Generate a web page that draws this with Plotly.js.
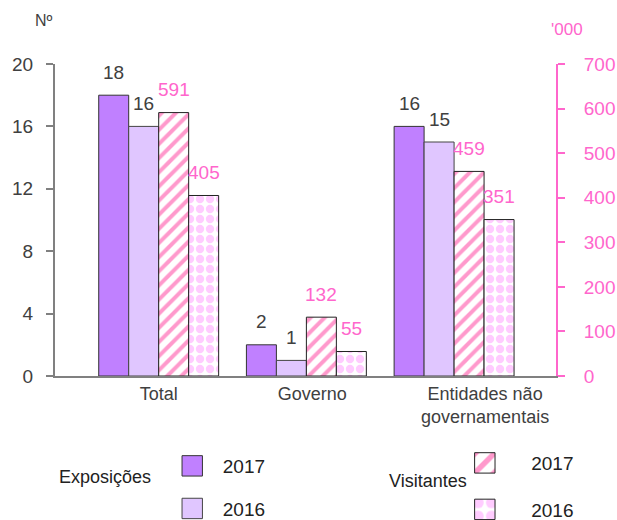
<!DOCTYPE html>
<html>
<head>
<meta charset="utf-8">
<script src="https://cdn.plot.ly/plotly-3.0.1.min.js"></script>
<style>
  html, body { margin: 0; padding: 0; background: #fff; }
  #chart { width: 617px; height: 520px; }
</style>
</head>
<body>
<div id="chart"></div>
<script>
// ---- data ----
const categories = ['Total', 'Governo', 'Entidades não governamentais'];
const tickLabels = ['Total', 'Governo', 'Entidades não<br>governamentais'];
const exposicoes2017 = [18, 2, 16];
const exposicoes2016 = [16, 1, 15];
const visitantes2017 = [591, 132, 459];   // '000
const visitantes2016 = [405, 55, 351];    // '000
const leftTicks = [0, 4, 8, 12, 16, 20];
const rightTicks = [0, 100, 200, 300, 400, 500, 600, 700];

// ---- styles ----
const FONT = '"Liberation Sans", Arial, sans-serif';
const FS = 18;     // words
const FN = 19;     // numbers
const GREY = '#808080';
const DARK = '#404040';
const PINK = '#FF66CC';
const W = 0.203;
const offsets = [-2 * W, -W, 0, W];
const labelPos = [0, 1.04, 2.21];
const NB = '\u00A0';

const xIdx = categories.map((_, i) => i);

function barTrace(name, values, k, yaxis, marker, legend) {
  return {
    type: 'bar', name: name, x: xIdx, y: values, yaxis: yaxis,
    width: W, offset: offsets[k], marker: marker, legend: legend,
    hoverinfo: 'skip'
  };
}

const traces = [
  barTrace(NB + NB + '2017', exposicoes2017, 0, 'y',
    { color: '#C080FF', line: { color: '#333333', width: 1 } }, 'legend'),
  barTrace(NB + NB + '2016', exposicoes2016, 1, 'y',
    { color: '#E0C6FF', line: { color: '#444444', width: 1 } }, 'legend2'),
  barTrace(NB.repeat(5) + '2017', visitantes2017, 2, 'y2',
    { color: '#FFFFFF', line: { color: '#222222', width: 1 },
      pattern: { shape: '/', fgcolor: '#FF99CC', bgcolor: '#FFFFFF', size: 10, solidity: 0.4 } }, 'legend3'),
  barTrace(NB.repeat(5) + '2016', visitantes2016, 3, 'y2',
    { color: '#FFFFFF', line: { color: '#222222', width: 1 },
      pattern: { shape: '.', fgcolor: '#FFCCFF', bgcolor: '#FFFFFF', size: 10, solidity: 0.55 } }, 'legend4')
];

// value labels
const annotations = [];
function addLabels(values, k, yref, color) {
  values.forEach((v, i) => {
    annotations.push({
      x: i + offsets[k] + W / 2, y: v, xref: 'x', yref: yref,
      text: String(v), showarrow: false, xanchor: 'center', yanchor: 'middle', yshift: 23,
      font: { family: FONT, size: FN, color: color }
    });
  });
}
addLabels(exposicoes2017, 0, 'y', DARK);
addLabels(exposicoes2016, 1, 'y', DARK);
addLabels(visitantes2017, 2, 'y2', PINK);
addLabels(visitantes2016, 3, 'y2', PINK);

annotations.push(
  { xref: 'paper', yref: 'paper', x: -0.022, y: 1.138, text: 'Nº', showarrow: false,
    xanchor: 'center', yanchor: 'middle', font: { family: FONT, size: 16, color: DARK } },
  { xref: 'paper', yref: 'paper', x: 1.022, y: 1.109, text: "'000", showarrow: false,
    xanchor: 'center', yanchor: 'middle', font: { family: FONT, size: 17, color: PINK } },
  { xref: 'paper', yref: 'paper', x: 0.0998, y: -0.324, text: 'Exposições', showarrow: false,
    xanchor: 'center', yanchor: 'middle', font: { family: FONT, size: FS, color: '#222222' } },
  { xref: 'paper', yref: 'paper', x: 0.745, y: -0.337, text: 'Visitantes', showarrow: false,
    xanchor: 'center', yanchor: 'middle', font: { family: FONT, size: FS, color: '#222222' } }
);

function legendAt(x, y) {
  return {
    x: x, y: y, xanchor: 'left', yanchor: 'middle', bgcolor: 'rgba(0,0,0,0)',
    borderwidth: 0, font: { family: FONT, size: FN, color: '#222222' }
  };
}

const layout = {
  width: 617, height: 520,
  margin: { l: 55, r: 61, t: 64, b: 144, autoexpand: false },
  paper_bgcolor: '#FFFFFF', plot_bgcolor: '#FFFFFF',
  font: { family: FONT, size: FS, color: DARK },
  showlegend: true,
  xaxis: {
    range: [-0.702, 2.69], tickvals: labelPos, ticktext: tickLabels,
    showline: true, linecolor: GREY, linewidth: 2, ticks: '', showgrid: false,
    zeroline: false, tickfont: { family: FONT, size: FS, color: DARK }, fixedrange: true
  },
  yaxis: {
    range: [0, 20], tickvals: leftTicks, ticks: 'outside', ticklen: 7, tickwidth: 2,
    tickcolor: GREY, showline: true, linecolor: GREY, linewidth: 2, showgrid: false,
    zeroline: false, ticklabelstandoff: 9, tickfont: { family: FONT, size: FN, color: DARK }
  },
  yaxis2: {
    range: [0, 700], tickvals: rightTicks, overlaying: 'y', side: 'right',
    ticks: 'outside', ticklen: 7, tickwidth: 2, tickcolor: PINK,
    showline: true, linecolor: PINK, linewidth: 2, showgrid: false, zeroline: false,
    ticklabelstandoff: 15, tickfont: { family: FONT, size: FN, color: PINK }
  },
  legend: legendAt(0.234, -0.2885),
  legend2: legendAt(0.234, -0.425),
  legend3: legendAt(0.818, -0.279),
  legend4: legendAt(0.818, -0.428),
  annotations: annotations
};

function enlargeLegendSymbols() {
  document.querySelectorAll('.legendpoints path').forEach(function (p) {
    if (!p.dataset.orig) p.dataset.orig = p.getAttribute('transform') || '';
    p.setAttribute('transform', p.dataset.orig + ' scale(1.7)');
    p.setAttribute('vector-effect', 'non-scaling-stroke');
  });
  document.querySelectorAll('.legend .scrollbox, .legend .bg').forEach(function (el) {
    el.removeAttribute('clip-path');
  });
}

Plotly.newPlot('chart', traces, layout, { displayModeBar: false, staticPlot: true })
  .then(function () {
    enlargeLegendSymbols();
    requestAnimationFrame(enlargeLegendSymbols);
    setTimeout(enlargeLegendSymbols, 50);
  });
</script>
</body>
</html>
